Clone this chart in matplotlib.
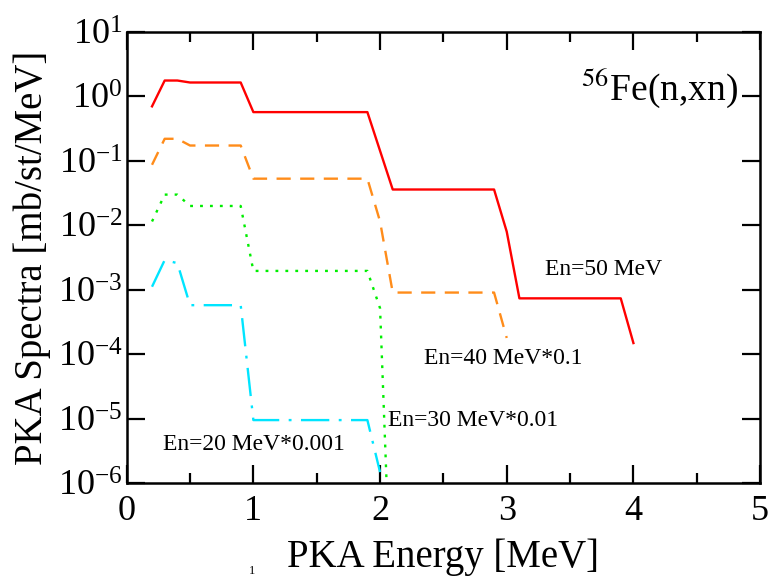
import matplotlib
matplotlib.use("Agg")
import matplotlib.pyplot as plt
from matplotlib.ticker import LogLocator, MultipleLocator, NullLocator

# PKA spectra (mb/st/MeV)
e50 = [0.2, 0.3, 0.4, 0.5, 0.9, 1.0, 1.9, 2.1, 2.9, 3.0, 3.1, 3.9, 4.0]
s50 = [0.70, 1.76, 1.76, 1.64, 1.64, 0.57, 0.57, 0.036, 0.036, 0.008, 7.4e-4, 7.4e-4, 1.5e-4]

e40 = [0.2, 0.3, 0.4, 0.5, 0.9, 1.0, 1.9, 2.0, 2.1, 2.9, 3.0]
s40 = [0.087, 0.22, 0.22, 0.173, 0.173, 0.053, 0.053, 0.0115, 9.1e-4, 9.1e-4, 1.8e-4]

e30 = [0.2, 0.3, 0.4, 0.5, 0.9, 1.0, 1.9, 2.0, 2.1]
s30 = [0.0115, 0.030, 0.030, 0.020, 0.020, 0.00197, 0.00197, 5.2e-4, 3e-9]

e20 = [0.2, 0.3, 0.4, 0.5, 0.9, 1.0, 1.9, 2.0]
s20 = [1.12e-3, 2.9e-3, 2.6e-3, 5.8e-4, 5.8e-4, 9.6e-6, 9.6e-6, 1.5e-6]

plt.rcParams['font.family'] = ['Liberation Serif', 'DejaVu Serif']
plt.rcParams['mathtext.fontset'] = 'stix'

fig = plt.figure(figsize=(7.82, 5.79), dpi=100)
ax = fig.add_axes([0.162, 0.165, 0.810, 0.780])

ax.plot(e50, s50, color='#ff0000', lw=1.7, ls='-')
ax.plot(e40, s40, color='#ff8c1a', lw=1.7, ls=(0, (6, 4)))
ax.plot(e30, s30, color='#00ee00', lw=1.7, ls=(0, (1.2, 3)))
ax.plot(e20, s20, color='#00e5ff', lw=1.7, ls=(0, (12, 4, 1.2, 4)))

ax.set_yscale('log')
ax.set_xlim(0, 5)
ax.set_ylim(1e-6, 10)

ax.xaxis.set_major_locator(MultipleLocator(1))
ax.xaxis.set_minor_locator(MultipleLocator(0.5))
ax.yaxis.set_major_locator(LogLocator(base=10, numticks=10))
ax.yaxis.set_minor_locator(NullLocator())

ax.tick_params(which='both', direction='in', top=True, right=True, width=1.6)
ax.tick_params(which='major', length=13, labelsize=26)
ax.tick_params(axis='x', which='major', pad=8)
ax.tick_params(axis='y', which='major', pad=3)
ax.tick_params(which='minor', length=7)
for sp in ax.spines.values():
    sp.set_linewidth(1.8)

ax.set_xlabel('PKA Energy [MeV]', fontsize=28, labelpad=8)
ax.set_ylabel('PKA Spectra [mb/st/MeV]', fontsize=28)
ax.yaxis.set_label_coords(-0.12, 0.5)

ax.text(0.965, 0.876, r'$^{56}$Fe(n,xn)', transform=ax.transAxes,
        ha='right', va='center', fontsize=27)
ax.text(3.3, 2.1e-3, 'En=50 MeV', fontsize=17, ha='left', va='center')
ax.text(2.35, 8.5e-5, 'En=40 MeV*0.1', fontsize=17, ha='left', va='center')
ax.text(2.06, 9.3e-6, 'En=30 MeV*0.01', fontsize=17, ha='left', va='center')
ax.text(0.29, 4.0e-6, 'En=20 MeV*0.001', fontsize=17, ha='left', va='center')

# stray fragment of caption text visible at the bottom of the reference
fig.text(0.318, 0.003, '1', fontsize=9, ha='left', va='bottom')

fig.savefig('out.png', dpi=100)
